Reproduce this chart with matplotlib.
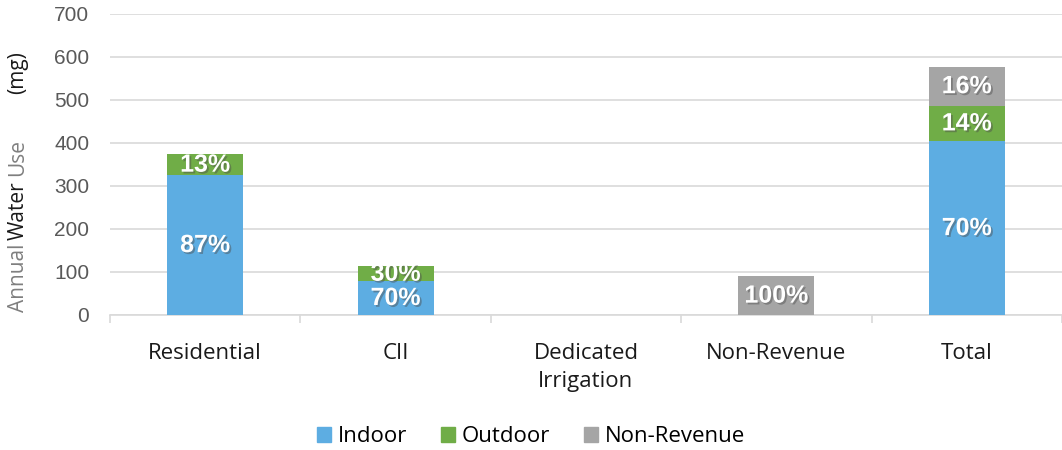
import matplotlib
matplotlib.use('Agg')
import matplotlib.pyplot as plt
import matplotlib.patheffects as pe
from matplotlib.patches import Patch
import numpy as np

categories = ['Residential', 'CII', 'Dedicated\nIrrigation', 'Non-Revenue', 'Total']
indoor = [325, 79, 0, 0, 404]
outdoor = [49, 34, 0, 0, 83]
non_revenue = [0, 0, 0, 90, 90]
pct_indoor = ['87%', '70%', '', '', '70%']
pct_outdoor = ['13%', '30%', '', '', '14%']
pct_nonrev = ['', '', '', '100%', '16%']

c_in, c_out, c_nr = '#5DADE2', '#70AD47', '#A5A5A5'

fig = plt.figure(figsize=(10.62, 4.5), dpi=100)
ax = fig.add_axes([110 / 1062, 0.30, 1 - 110 / 1062, 0.669])

x = np.arange(len(categories))
w = 0.4
ax.bar(x, indoor, w, color=c_in, zorder=3)
ax.bar(x, outdoor, w, bottom=indoor, color=c_out, zorder=3)
bot2 = np.array(indoor) + np.array(outdoor)
ax.bar(x, non_revenue, w, bottom=bot2, color=c_nr, zorder=3)

shadow = [pe.SimplePatchShadow(offset=(1.3, -1.3), alpha=0.45), pe.Normal()]
lab = dict(ha='center', va='center', color='white', fontweight='bold',
           fontsize=18, family='Liberation Sans', zorder=5, path_effects=shadow)
for i in range(len(categories)):
    if pct_indoor[i]:
        ax.text(x[i], indoor[i] / 2, pct_indoor[i], **lab)
    if pct_outdoor[i]:
        ax.text(x[i], indoor[i] + outdoor[i] / 2, pct_outdoor[i], **lab)
    if pct_nonrev[i]:
        ax.text(x[i], bot2[i] + non_revenue[i] / 2, pct_nonrev[i], **lab)

ax.set_xlim(-0.5, 4.5)
ax.set_ylim(0, 700)
ax.set_yticks(range(0, 701, 100))
ax.yaxis.grid(True, color='#D9D9D9', lw=1.2, zorder=0)
ax.set_axisbelow(True)
for s in ['top', 'right', 'left']:
    ax.spines[s].set_visible(False)
ax.spines['bottom'].set_color('#D9D9D9')
ax.spines['bottom'].set_linewidth(1.2)
ax.tick_params(axis='y', length=0, labelsize=15, labelcolor='#595959', pad=15)
for t in ax.get_yticklabels():
    t.set_family('Liberation Sans')
ax.set_xticks(x)
ax.set_xticklabels(categories, fontsize=16, family='Open Sans', color='#1a1a1a',
                   linespacing=1.45)
ax.set_xticks(np.arange(-0.5, 5, 1), minor=True)
ax.tick_params(axis='x', which='major', length=0, pad=20)
ax.tick_params(axis='x', which='minor', length=6, color='#D9D9D9', width=1.2)

# y label pieces, stacked upward one after another
r = fig.canvas.get_renderer()
ybot = 1 - 312 / 450
for txt, col, gap in [('Annual', '#7f7f7f', 4), ('Water', '#1a1a1a', 5),
                      ('Use', '#7f7f7f', 45), ('(mg)', '#1a1a1a', 0)]:
    t = fig.text(18 / 1062, ybot, txt, rotation=90, ha='center', va='bottom',
                 fontsize=15, family='Open Sans', color=col)
    bb = t.get_window_extent(r)
    ybot = (bb.y1 + gap) / fig.bbox.height

handles = [Patch(color=c_in, label='Indoor'), Patch(color=c_out, label='Outdoor'),
           Patch(color=c_nr, label='Non-Revenue')]
fig.legend(handles=handles, loc='center', bbox_to_anchor=(0.5, 1 - 437 / 450),
           ncol=3, frameon=False, prop={'family': 'Open Sans', 'size': 16},
           handlelength=0.65, handleheight=0.65, handletextpad=0.3, columnspacing=1.5)

fig.savefig('out.png', dpi=100)
